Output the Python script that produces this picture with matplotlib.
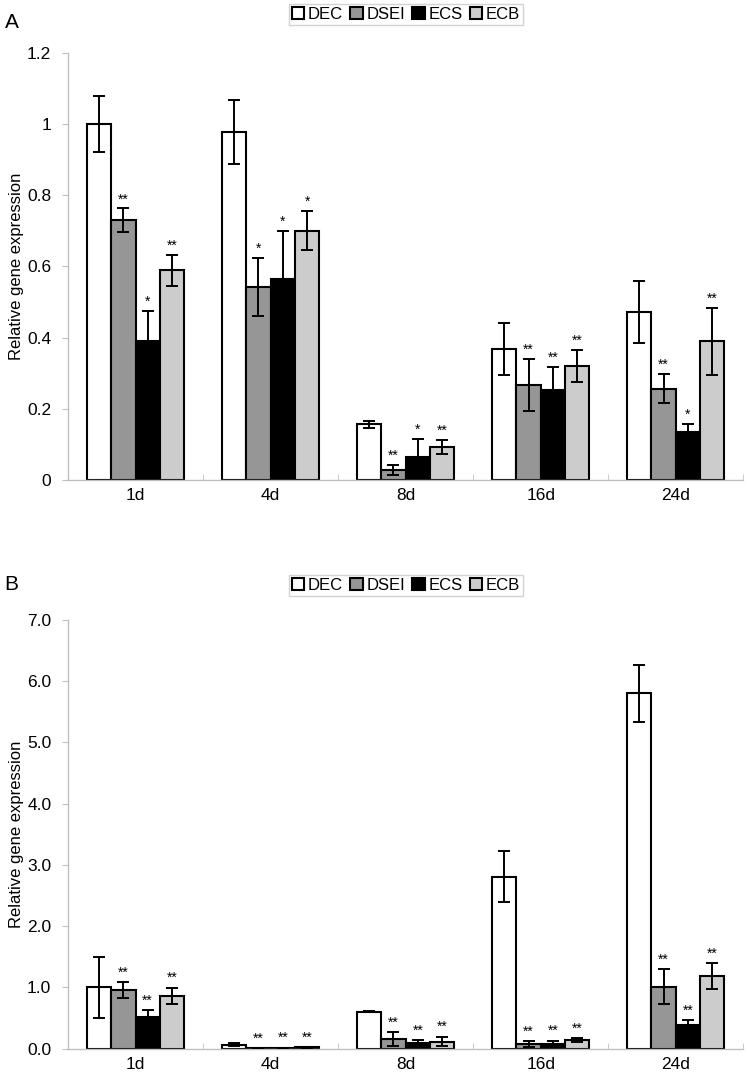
import numpy as np
import matplotlib
matplotlib.use('Agg')
import matplotlib.pyplot as plt

plt.rcParams['font.family'] = ['Liberation Sans', 'DejaVu Sans']

days = ['1d', '4d', '8d', '16d', '24d']
series = ['DEC', 'DSEI', 'ECS', 'ECB']
colors = ['white', '#969696', 'black', '#cccccc']

# panel A
a_dec = [1.0, 0.978, 0.157, 0.368, 0.472]
a_dsei = [0.730, 0.543, 0.028, 0.268, 0.257]
a_ecs = [0.391, 0.565, 0.065, 0.254, 0.135]
a_ecb = [0.589, 0.701, 0.093, 0.321, 0.390]
a_dec_err = [0.078, 0.090, 0.010, 0.072, 0.088]
a_dsei_err = [0.033, 0.081, 0.014, 0.073, 0.041]
a_ecs_err = [0.085, 0.136, 0.051, 0.064, 0.022]
a_ecb_err = [0.043, 0.054, 0.019, 0.045, 0.094]
a_stars = [['', '**', '*', '**'], ['', '*', '*', '*'], ['', '**', '*', '**'],
           ['', '**', '**', '**'], ['', '**', '*', '**']]

# panel B
b_dec = [1.0, 0.065, 0.605, 2.81, 5.80]
b_dsei = [0.96, 0.005, 0.159, 0.077, 1.013]
b_ecs = [0.523, 0.012, 0.098, 0.080, 0.390]
b_ecb = [0.866, 0.020, 0.115, 0.137, 1.190]
b_dec_err = [0.50, 0.020, 0.010, 0.415, 0.47]
b_dsei_err = [0.13, 0.003, 0.11, 0.05, 0.29]
b_ecs_err = [0.10, 0.005, 0.04, 0.05, 0.07]
b_ecb_err = [0.13, 0.006, 0.08, 0.035, 0.21]
b_stars = [['', '**', '**', '**']] * 5

fig = plt.figure(figsize=(7.47, 10.81), dpi=100)
axA = fig.add_axes([0.091, 0.556, 0.904, 0.395])
axB = fig.add_axes([0.091, 0.030, 0.904, 0.3965])

bw = 0.18
x = np.arange(len(days))


def draw(ax, vals, errs, stars, ymax, step, fmt, star_off):
    for i, (v, e) in enumerate(zip(vals, errs)):
        pos = x + (i - 1.5) * bw
        ax.bar(pos, v, width=bw, color=colors[i], edgecolor='black',
               linewidth=1.5, label=series[i], zorder=2)
        ax.errorbar(pos, v, yerr=e, fmt='none', ecolor='black',
                    elinewidth=1.4, capsize=4, capthick=1.4, zorder=3)
        for j in range(len(days)):
            s = stars[j][i]
            if s:
                ax.text(pos[j], v[j] + e[j] + star_off, s, ha='center',
                        va='bottom', fontsize=10)
    ax.set_xlim(-0.5, len(days) - 0.5)
    ax.set_ylim(0, ymax)
    ticks = np.arange(0, ymax + step / 2, step)
    ax.set_yticks(ticks)
    ax.set_yticklabels([fmt(t) for t in ticks], fontsize=12.5)
    ax.set_xticks(x)
    ax.set_xticklabels(days, fontsize=12.5)
    ax.set_xticks(np.arange(-0.5, len(days)), minor=True)
    ax.tick_params(axis='x', which='major', length=0, pad=6)
    ax.tick_params(axis='x', which='minor', length=4, color='#c0c0c0',
                   direction='in')
    ax.tick_params(axis='y', length=4, color='#c0c0c0', pad=8)
    for sp in ['top', 'right']:
        ax.spines[sp].set_visible(False)
    for sp in ['left', 'bottom']:
        ax.spines[sp].set_color('#c0c0c0')
        ax.spines[sp].set_linewidth(1.0)
    ax.set_ylabel('Relative gene expression', fontsize=12, labelpad=2)


def fmt_a(t):
    t = round(t, 1)
    return '0' if t == 0 else ('1' if t == 1 else f'{t:g}')


draw(axA, [a_dec, a_dsei, a_ecs, a_ecb],
     [a_dec_err, a_dsei_err, a_ecs_err, a_ecb_err], a_stars, 1.2, 0.2,
     fmt_a, 0.006)
draw(axB, [b_dec, b_dsei, b_ecs, b_ecb],
     [b_dec_err, b_dsei_err, b_ecs_err, b_ecb_err], b_stars, 7.0, 1.0,
     lambda t: f'{t:.1f}', 0.04)

for ax, ly in [(axA, 0.9865), (axB, 0.4585)]:
    h, l = ax.get_legend_handles_labels()
    fig.legend(h, l, loc='center', bbox_to_anchor=(0.5434, ly), ncol=4,
               frameon=True, fancybox=False, edgecolor='#c8c8c8',
               fontsize=12, handlelength=0.75, handleheight=0.75,
               handletextpad=0.2, columnspacing=0.45, borderpad=0.2,
               borderaxespad=0)

fig.text(0.006, 0.979, 'A', fontsize=15, va='center')
fig.text(0.006, 0.459, 'B', fontsize=15, va='center')

fig.savefig('out.png', dpi=100)
